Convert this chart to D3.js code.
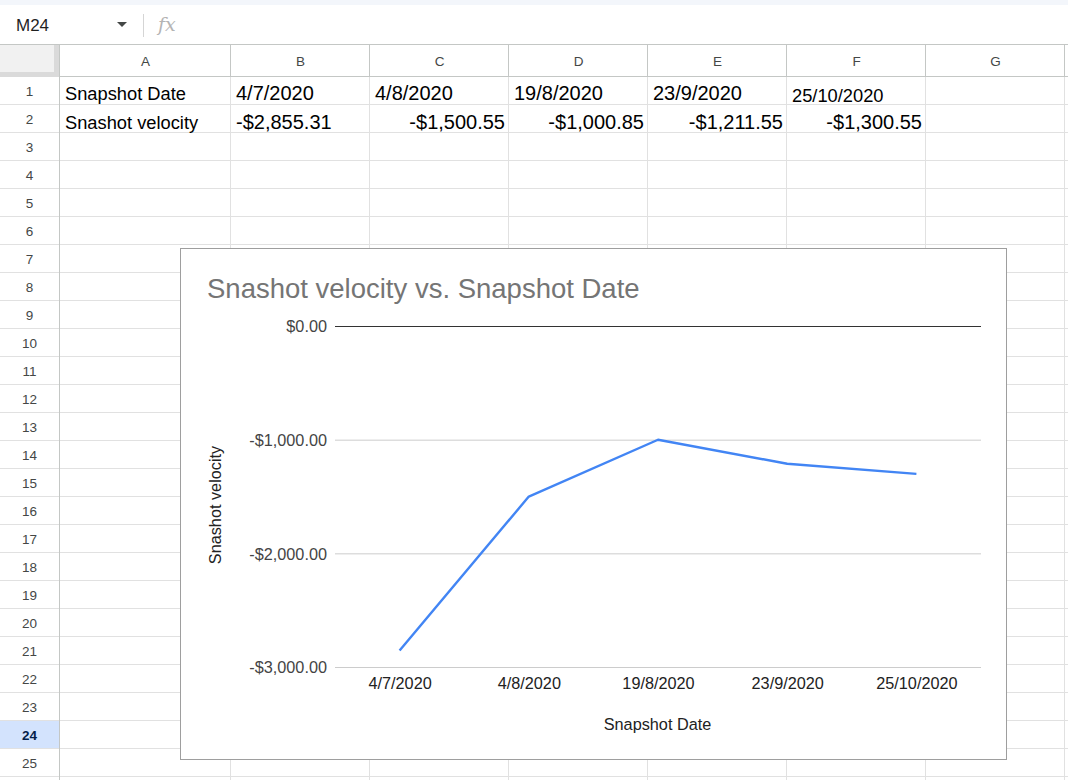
<!DOCTYPE html>
<html><head><meta charset="utf-8">
<script src="https://cdn.jsdelivr.net/npm/d3@7"></script>
<style>
html,body{margin:0;padding:0;background:#fff;overflow:hidden}
svg{display:block;font-family:"Liberation Sans",Arial,sans-serif}
</style></head><body>
<svg id="c" width="1068" height="780"></svg>
<script>
// ---- data ----
const columnLetters = ["A","B","C","D","E","F","G"];
const rowNumbers = d3.range(1, 26);
const rowLabels = ["Snapshot Date", "Snashot velocity"];
const snapshotDates = ["4/7/2020", "4/8/2020", "19/8/2020", "23/9/2020", "25/10/2020"];
const snapshotVelocity = [-2855.31, -1500.55, -1000.85, -1211.55, -1300.55];
const yTicks = [0, -1000, -2000, -3000];
const chartTitle = "Snashot velocity vs. Snapshot Date";
const xAxisTitle = "Snapshot Date";
const yAxisTitle = "Snashot velocity";
const nameBoxText = "M24";
const activeRow = 24;

// ---- layout ----
const W = 1068, H = 780;
const colEdges = [60, 231, 370, 509, 648, 787, 926, 1065];
const headerTop = 45, headerBottom = 77, rowH = 28;
const rowTop = n => headerBottom + (n - 1) * rowH;

const locale = d3.formatLocale({decimal: ".", thousands: ",", grouping: [3], currency: ["$", ""], minus: "-"});
const money = locale.format("$,.2f");

const svg = d3.select("#c");

// top strip & formula bar
svg.append("rect").attr("x", 0).attr("y", 0).attr("width", W).attr("height", 5).attr("fill", "#f3f6fb");
svg.append("text").attr("x", 16).attr("y", 31).attr("font-size", 17).attr("fill", "#1f1f1f").text(nameBoxText);
svg.append("path").attr("d", "M117,22L127,22L122,27Z").attr("fill", "#444746");
svg.append("line").attr("x1", 143.5).attr("x2", 143.5).attr("y1", 14).attr("y2", 37).attr("stroke", "#d5d5d5");
svg.append("text").attr("x", 158).attr("y", 31).attr("font-size", 19).attr("font-style", "italic")
  .attr("font-family", "DejaVu Serif, serif").attr("fill", "#b4b4b4").text("fx");
svg.append("line").attr("x1", 0).attr("x2", W).attr("y1", 44.5).attr("y2", 44.5).attr("stroke", "#c4c7c5");

// grid
const grid = svg.append("g");
rowNumbers.forEach(n => {
  grid.append("line").attr("x1", 0).attr("x2", W).attr("y1", rowTop(n) + rowH - 0.5).attr("y2", rowTop(n) + rowH - 0.5)
    .attr("stroke", "#e1e1e1");
});
colEdges.slice(1).forEach(x => {
  grid.append("line").attr("x1", x - 0.5).attr("x2", x - 0.5).attr("y1", headerTop).attr("y2", H).attr("stroke", "#e1e1e1");
});
colEdges.slice(1).forEach(x => {
  grid.append("line").attr("x1", x - 0.5).attr("x2", x - 0.5).attr("y1", headerTop).attr("y2", headerBottom).attr("stroke", "#c4c7c5");
});
grid.append("line").attr("x1", 0).attr("x2", W).attr("y1", headerBottom - 0.5).attr("y2", headerBottom - 0.5).attr("stroke", "#c4c7c5");
grid.append("line").attr("x1", colEdges[0] - 0.5).attr("x2", colEdges[0] - 0.5).attr("y1", headerTop).attr("y2", H).attr("stroke", "#c4c7c5");

// corner
svg.append("rect").attr("x", 0).attr("y", headerTop).attr("width", 54).attr("height", 27).attr("fill", "#f1f1f1");
svg.append("rect").attr("x", 54).attr("y", headerTop).attr("width", 5).attr("height", 32).attr("fill", "#dadada");
svg.append("rect").attr("x", 0).attr("y", 72).attr("width", 59).attr("height", 5).attr("fill", "#dadada");

// column letters
columnLetters.forEach((c, i) => {
  svg.append("text").attr("x", (colEdges[i] + colEdges[i + 1]) / 2).attr("y", 66)
    .attr("text-anchor", "middle").attr("font-size", 13.5).attr("fill", "#444746").text(c);
});

// row highlight + numbers
svg.append("rect").attr("x", 0).attr("y", rowTop(activeRow)).attr("width", 59).attr("height", rowH - 1).attr("fill", "#d3e3fd");
rowNumbers.forEach(n => {
  svg.append("text").attr("x", 29.5).attr("y", rowTop(n) + 19).attr("text-anchor", "middle")
    .attr("font-size", 13.5).attr("font-weight", n === activeRow ? "bold" : "normal")
    .attr("fill", n === activeRow ? "#041e49" : "#444746").text(n);
});

// cell contents
const cells = svg.append("g").attr("fill", "#000");
cells.append("text").attr("x", colEdges[0] + 5).attr("y", 100).attr("font-size", 18.3).text(rowLabels[0]);
cells.append("text").attr("x", colEdges[0] + 5).attr("y", 128.5).attr("font-size", 18.3).text(rowLabels[1]);
snapshotDates.forEach((d, i) => {
  const last = i === snapshotDates.length - 1;
  cells.append("text").attr("x", colEdges[i + 1] + 5).attr("y", last ? 101.5 : 100)
    .attr("font-size", last ? 18.3 : 20).text(d);
});
snapshotVelocity.forEach((v, i) => {
  const first = i === 0;
  cells.append("text").attr("x", first ? colEdges[i + 1] + 5 : colEdges[i + 2] - 4).attr("y", 128.5)
    .attr("text-anchor", first ? "start" : "end").attr("font-size", 20).text(money(v));
});

// ---- chart ----
const chart = svg.append("g");
chart.append("rect").attr("x", 180.5).attr("y", 248.5).attr("width", 826).attr("height", 511)
  .attr("fill", "#fff").attr("stroke", "#9e9e9e");
chart.append("text").attr("x", 207).attr("y", 297.5).attr("font-size", 27.5).attr("fill", "#757575").text(chartTitle);

const x = d3.scalePoint().domain(snapshotDates).range([335, 981]).padding(0.5);
const y = d3.scaleLinear().domain([-3000, 0]).range([667, 326]);

const yAxis = d3.axisLeft(y).tickValues(yTicks).tickFormat(money).tickSize(0).tickPadding(8);
const gy = chart.append("g").attr("transform", "translate(335,0)").call(yAxis);
gy.select(".domain").remove();
gy.selectAll(".tick text").attr("font-size", 16.25).attr("fill", "#444").attr("font-family", "Liberation Sans, Arial, sans-serif")
  .attr("dy", "0.36em");
gy.selectAll(".tick line").remove();
gy.selectAll(".tick").append("line").attr("x1", 0).attr("x2", 646)
  .attr("stroke", d => d === 0 ? "#333" : "#cccccc").attr("stroke-width", 1);
gy.selectAll(".tick").filter(d => d === 0).raise();

const xAxis = d3.axisBottom(x).tickSize(0).tickPadding(0);
const gx = chart.append("g").attr("transform", "translate(0,667)").call(xAxis);
gx.select(".domain").remove();
gx.selectAll(".tick text").attr("font-size", 16.25).attr("fill", "#222").attr("font-family", "Liberation Sans, Arial, sans-serif")
  .attr("dy", null).attr("y", 21.5);

const line = d3.line().x((d, i) => x(snapshotDates[i])).y(d => y(d));
chart.append("path").datum(snapshotVelocity).attr("d", line).attr("fill", "none")
  .attr("stroke", "#4285f4").attr("stroke-width", 2.4).attr("stroke-linejoin", "round");

chart.append("text").attr("x", 657.5).attr("y", 730).attr("text-anchor", "middle").attr("font-size", 16.25)
  .attr("fill", "#222").text(xAxisTitle);
chart.append("text").attr("transform", "translate(221,505) rotate(-90)").attr("text-anchor", "middle")
  .attr("font-size", 16.25).attr("fill", "#222").text(yAxisTitle);
</script>
</body></html>
